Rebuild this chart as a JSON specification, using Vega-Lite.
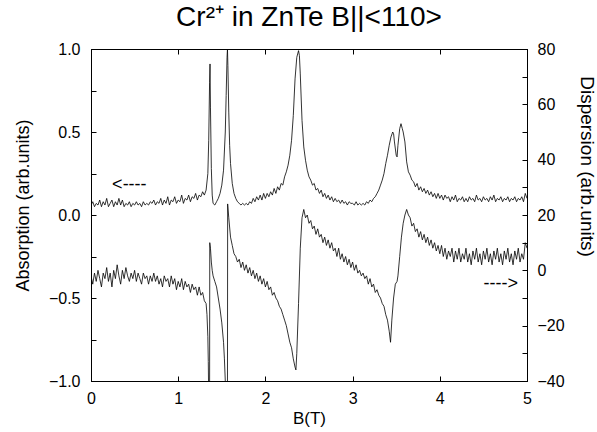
{
"$schema":"https://vega.github.io/schema/vega-lite/v6.json",
"width":436,"height":332,
"autosize":{"type":"none"},
"padding":{"left":91,"top":49,"right":70,"bottom":51},
"background":"white",
"config":{"view":{"stroke":"black","strokeWidth":1},"font":"Liberation Sans",
"axis":{"grid":false,"domainColor":"black","tickColor":"black","labelColor":"black","titleColor":"black","labelFont":"Liberation Sans","titleFont":"Liberation Sans","labelFontSize":16,"titleFontSize":18,"titleFontWeight":"normal","tickSize":-5,"labelOverlap":false,"labelFlush":false,"labelBound":false}},
"title":{"text":"Cr²⁺ in ZnTe B||<110>","fontSize":28,"fontWeight":"normal","font":"Liberation Sans","color":"black","offset":9,"anchor":"middle"},
"datasets":{
"abs":[
{"B":0.00,"A":0.06},{"B":0.02,"A":0.08},{"B":0.04,"A":0.05},{"B":0.06,"A":0.07},{"B":0.08,"A":0.06},{"B":0.10,"A":0.09},{"B":0.12,"A":0.05},{"B":0.14,"A":0.08},{"B":0.16,"A":0.06},{"B":0.18,"A":0.10},
{"B":0.20,"A":0.05},{"B":0.22,"A":0.07},{"B":0.24,"A":0.09},{"B":0.26,"A":0.05},{"B":0.28,"A":0.08},{"B":0.30,"A":0.06},{"B":0.32,"A":0.10},{"B":0.34,"A":0.06},{"B":0.36,"A":0.09},{"B":0.38,"A":0.05},
{"B":0.40,"A":0.07},{"B":0.42,"A":0.06},{"B":0.44,"A":0.08},{"B":0.46,"A":0.05},{"B":0.48,"A":0.07},{"B":0.50,"A":0.06},{"B":0.52,"A":0.08},{"B":0.54,"A":0.06},{"B":0.56,"A":0.07},{"B":0.58,"A":0.05},
{"B":0.60,"A":0.08},{"B":0.62,"A":0.06},{"B":0.64,"A":0.07},{"B":0.66,"A":0.06},{"B":0.68,"A":0.08},{"B":0.70,"A":0.07},{"B":0.72,"A":0.09},{"B":0.74,"A":0.06},{"B":0.76,"A":0.08},{"B":0.78,"A":0.07},
{"B":0.80,"A":0.10},{"B":0.82,"A":0.06},{"B":0.84,"A":0.09},{"B":0.86,"A":0.07},{"B":0.88,"A":0.11},{"B":0.90,"A":0.06},{"B":0.92,"A":0.09},{"B":0.94,"A":0.08},{"B":0.96,"A":0.11},{"B":0.98,"A":0.07},
{"B":1.00,"A":0.09},{"B":1.02,"A":0.08},{"B":1.04,"A":0.12},{"B":1.06,"A":0.07},{"B":1.08,"A":0.10},{"B":1.10,"A":0.09},{"B":1.12,"A":0.12},{"B":1.14,"A":0.08},{"B":1.16,"A":0.11},{"B":1.18,"A":0.10},
{"B":1.20,"A":0.13},{"B":1.22,"A":0.09},{"B":1.24,"A":0.12},{"B":1.26,"A":0.11},{"B":1.28,"A":0.14},{"B":1.30,"A":0.12},{"B":1.32,"A":0.15},{"B":1.34,"A":0.25},{"B":1.35,"A":0.45},{"B":1.36,"A":0.80},
{"B":1.365,"A":0.91},{"B":1.37,"A":0.65},{"B":1.38,"A":0.28},{"B":1.39,"A":0.12},{"B":1.40,"A":0.07},{"B":1.42,"A":0.06},{"B":1.44,"A":0.08},{"B":1.46,"A":0.10},{"B":1.48,"A":0.13},{"B":1.50,"A":0.18},
{"B":1.52,"A":0.27},{"B":1.54,"A":0.50},{"B":1.55,"A":0.72},{"B":1.56,"A":0.95},{"B":1.565,"A":1.00},{"B":1.57,"A":0.90},{"B":1.58,"A":0.62},{"B":1.59,"A":0.42},{"B":1.60,"A":0.31},{"B":1.62,"A":0.19},
{"B":1.64,"A":0.13},{"B":1.66,"A":0.10},{"B":1.68,"A":0.08},{"B":1.70,"A":0.07},{"B":1.72,"A":0.06},{"B":1.74,"A":0.07},{"B":1.76,"A":0.06},{"B":1.78,"A":0.07},{"B":1.80,"A":0.06},{"B":1.82,"A":0.08},
{"B":1.84,"A":0.07},{"B":1.86,"A":0.10},{"B":1.88,"A":0.08},{"B":1.90,"A":0.11},{"B":1.92,"A":0.09},{"B":1.94,"A":0.12},{"B":1.96,"A":0.09},{"B":1.98,"A":0.13},{"B":2.00,"A":0.10},{"B":2.02,"A":0.13},
{"B":2.04,"A":0.11},{"B":2.06,"A":0.14},{"B":2.08,"A":0.12},{"B":2.10,"A":0.16},{"B":2.12,"A":0.13},{"B":2.14,"A":0.17},{"B":2.16,"A":0.15},{"B":2.18,"A":0.19},{"B":2.20,"A":0.18},{"B":2.22,"A":0.23},
{"B":2.24,"A":0.26},{"B":2.26,"A":0.30},{"B":2.28,"A":0.36},{"B":2.30,"A":0.45},{"B":2.32,"A":0.60},{"B":2.34,"A":0.82},{"B":2.36,"A":0.95},{"B":2.38,"A":0.99},{"B":2.39,"A":0.96},{"B":2.40,"A":0.85},
{"B":2.42,"A":0.57},{"B":2.44,"A":0.41},{"B":2.46,"A":0.33},{"B":2.48,"A":0.27},{"B":2.50,"A":0.23},{"B":2.52,"A":0.21},{"B":2.54,"A":0.18},{"B":2.56,"A":0.19},{"B":2.58,"A":0.15},{"B":2.60,"A":0.16},
{"B":2.62,"A":0.13},{"B":2.64,"A":0.15},{"B":2.66,"A":0.11},{"B":2.68,"A":0.13},{"B":2.70,"A":0.10},{"B":2.72,"A":0.12},{"B":2.74,"A":0.09},{"B":2.76,"A":0.11},{"B":2.78,"A":0.08},{"B":2.80,"A":0.10},
{"B":2.82,"A":0.08},{"B":2.84,"A":0.09},{"B":2.86,"A":0.07},{"B":2.88,"A":0.09},{"B":2.90,"A":0.07},{"B":2.92,"A":0.08},{"B":2.94,"A":0.06},{"B":2.96,"A":0.08},{"B":2.98,"A":0.07},{"B":3.00,"A":0.07},
{"B":3.02,"A":0.06},{"B":3.04,"A":0.08},{"B":3.06,"A":0.06},{"B":3.08,"A":0.07},{"B":3.10,"A":0.06},{"B":3.12,"A":0.07},{"B":3.14,"A":0.06},{"B":3.16,"A":0.08},{"B":3.18,"A":0.07},{"B":3.20,"A":0.09},
{"B":3.22,"A":0.08},{"B":3.24,"A":0.10},{"B":3.26,"A":0.11},{"B":3.28,"A":0.13},{"B":3.30,"A":0.15},{"B":3.32,"A":0.18},{"B":3.34,"A":0.21},{"B":3.36,"A":0.25},{"B":3.38,"A":0.31},{"B":3.40,"A":0.36},
{"B":3.42,"A":0.42},{"B":3.44,"A":0.47},{"B":3.46,"A":0.50},{"B":3.47,"A":0.49},{"B":3.48,"A":0.44},{"B":3.50,"A":0.36},{"B":3.51,"A":0.35},{"B":3.52,"A":0.42},{"B":3.54,"A":0.52},{"B":3.555,"A":0.55},
{"B":3.57,"A":0.52},{"B":3.58,"A":0.50},{"B":3.60,"A":0.44},{"B":3.62,"A":0.32},{"B":3.64,"A":0.26},{"B":3.66,"A":0.24},{"B":3.68,"A":0.21},{"B":3.70,"A":0.20},{"B":3.72,"A":0.17},{"B":3.74,"A":0.19},
{"B":3.76,"A":0.15},{"B":3.78,"A":0.17},{"B":3.80,"A":0.14},{"B":3.82,"A":0.16},{"B":3.84,"A":0.13},{"B":3.86,"A":0.15},{"B":3.88,"A":0.12},{"B":3.90,"A":0.14},{"B":3.92,"A":0.11},{"B":3.94,"A":0.13},
{"B":3.96,"A":0.10},{"B":3.98,"A":0.13},{"B":4.00,"A":0.10},{"B":4.02,"A":0.12},{"B":4.04,"A":0.09},{"B":4.06,"A":0.12},{"B":4.08,"A":0.10},{"B":4.10,"A":0.11},{"B":4.12,"A":0.08},{"B":4.14,"A":0.11},
{"B":4.16,"A":0.09},{"B":4.18,"A":0.12},{"B":4.20,"A":0.08},{"B":4.22,"A":0.10},{"B":4.24,"A":0.09},{"B":4.26,"A":0.11},{"B":4.28,"A":0.08},{"B":4.30,"A":0.10},{"B":4.32,"A":0.08},{"B":4.34,"A":0.11},
{"B":4.36,"A":0.09},{"B":4.38,"A":0.10},{"B":4.40,"A":0.08},{"B":4.42,"A":0.12},{"B":4.44,"A":0.09},{"B":4.46,"A":0.10},{"B":4.48,"A":0.08},{"B":4.50,"A":0.11},{"B":4.52,"A":0.09},{"B":4.54,"A":0.10},
{"B":4.56,"A":0.08},{"B":4.58,"A":0.11},{"B":4.60,"A":0.09},{"B":4.62,"A":0.12},{"B":4.64,"A":0.08},{"B":4.66,"A":0.10},{"B":4.68,"A":0.09},{"B":4.70,"A":0.11},{"B":4.72,"A":0.08},{"B":4.74,"A":0.10},
{"B":4.76,"A":0.09},{"B":4.78,"A":0.11},{"B":4.80,"A":0.08},{"B":4.82,"A":0.10},{"B":4.84,"A":0.09},{"B":4.86,"A":0.11},{"B":4.88,"A":0.08},{"B":4.90,"A":0.10},{"B":4.92,"A":0.09},{"B":4.94,"A":0.11},
{"B":4.96,"A":0.08},{"B":4.98,"A":0.13},{"B":5.00,"A":0.10}
],
"disp":[
{"B":0.00,"D":-2},{"B":0.02,"D":-5},{"B":0.04,"D":-1},{"B":0.06,"D":-4},{"B":0.08,"D":0},{"B":0.10,"D":-3},{"B":0.12,"D":-6},{"B":0.14,"D":-1},{"B":0.16,"D":-3},{"B":0.18,"D":1},
{"B":0.20,"D":-4},{"B":0.22,"D":-1},{"B":0.24,"D":-6},{"B":0.26,"D":0},{"B":0.28,"D":-3},{"B":0.30,"D":2},{"B":0.32,"D":-2},{"B":0.34,"D":-5},{"B":0.36,"D":0},{"B":0.38,"D":-3},
{"B":0.40,"D":1},{"B":0.42,"D":-2},{"B":0.44,"D":-4},{"B":0.46,"D":-1},{"B":0.48,"D":-3},{"B":0.50,"D":0},{"B":0.52,"D":-4},{"B":0.54,"D":-1},{"B":0.56,"D":-3},{"B":0.58,"D":-5},
{"B":0.60,"D":-1},{"B":0.62,"D":-3},{"B":0.64,"D":-2},{"B":0.66,"D":-5},{"B":0.68,"D":-2},{"B":0.70,"D":-4},{"B":0.72,"D":-1},{"B":0.74,"D":-4},{"B":0.76,"D":-2},{"B":0.78,"D":-5},
{"B":0.80,"D":-3},{"B":0.82,"D":-6},{"B":0.84,"D":-2},{"B":0.86,"D":-4},{"B":0.88,"D":-3},{"B":0.90,"D":-6},{"B":0.92,"D":-2},{"B":0.94,"D":-5},{"B":0.96,"D":-3},{"B":0.98,"D":-7},
{"B":1.00,"D":-4},{"B":1.02,"D":-6},{"B":1.04,"D":-3},{"B":1.06,"D":-7},{"B":1.08,"D":-4},{"B":1.10,"D":-6},{"B":1.12,"D":-5},{"B":1.14,"D":-8},{"B":1.16,"D":-5},{"B":1.18,"D":-7},
{"B":1.20,"D":-6},{"B":1.22,"D":-9},{"B":1.24,"D":-6},{"B":1.26,"D":-9},{"B":1.28,"D":-8},{"B":1.30,"D":-11},{"B":1.32,"D":-12},{"B":1.33,"D":-16},{"B":1.34,"D":-24},{"B":1.345,"D":-33},
{"B":1.35,"D":-46},{"B":1.36,"D":-46},{"B":1.362,"D":10},{"B":1.37,"D":8},{"B":1.38,"D":3},{"B":1.39,"D":0},{"B":1.40,"D":-2},{"B":1.42,"D":-4},{"B":1.44,"D":-6},{"B":1.46,"D":-10},
{"B":1.48,"D":-14},{"B":1.50,"D":-19},{"B":1.52,"D":-26},{"B":1.53,"D":-32},{"B":1.54,"D":-40},{"B":1.545,"D":-46},{"B":1.565,"D":-46},{"B":1.567,"D":24},{"B":1.58,"D":19},{"B":1.60,"D":12},
{"B":1.62,"D":9},{"B":1.64,"D":6},{"B":1.66,"D":5},{"B":1.68,"D":3},{"B":1.70,"D":4},{"B":1.72,"D":1},{"B":1.74,"D":3},{"B":1.76,"D":0},{"B":1.78,"D":2},{"B":1.80,"D":-1},
{"B":1.82,"D":1},{"B":1.84,"D":-2},{"B":1.86,"D":0},{"B":1.88,"D":-3},{"B":1.90,"D":-1},{"B":1.92,"D":-4},{"B":1.94,"D":-2},{"B":1.96,"D":-5},{"B":1.98,"D":-3},{"B":2.00,"D":-6},
{"B":2.02,"D":-4},{"B":2.04,"D":-7},{"B":2.06,"D":-6},{"B":2.08,"D":-9},{"B":2.10,"D":-8},{"B":2.12,"D":-10},{"B":2.14,"D":-11},{"B":2.16,"D":-13},{"B":2.18,"D":-14},{"B":2.20,"D":-16},
{"B":2.22,"D":-18},{"B":2.24,"D":-20},{"B":2.26,"D":-23},{"B":2.28,"D":-26},{"B":2.30,"D":-28},{"B":2.32,"D":-32},{"B":2.34,"D":-35},{"B":2.35,"D":-36},{"B":2.36,"D":-30},{"B":2.38,"D":-12},
{"B":2.40,"D":8},{"B":2.42,"D":19},{"B":2.44,"D":22},{"B":2.46,"D":19},{"B":2.48,"D":20},{"B":2.50,"D":17},{"B":2.52,"D":18},{"B":2.54,"D":15},{"B":2.56,"D":16},{"B":2.58,"D":13},
{"B":2.60,"D":15},{"B":2.62,"D":12},{"B":2.64,"D":13},{"B":2.66,"D":10},{"B":2.68,"D":12},{"B":2.70,"D":9},{"B":2.72,"D":11},{"B":2.74,"D":8},{"B":2.76,"D":10},{"B":2.78,"D":7},
{"B":2.80,"D":8},{"B":2.82,"D":5},{"B":2.84,"D":8},{"B":2.86,"D":4},{"B":2.88,"D":6},{"B":2.90,"D":3},{"B":2.92,"D":5},{"B":2.94,"D":2},{"B":2.96,"D":4},{"B":2.98,"D":1},
{"B":3.00,"D":3},{"B":3.02,"D":0},{"B":3.04,"D":2},{"B":3.06,"D":-1},{"B":3.08,"D":0},{"B":3.10,"D":-2},{"B":3.12,"D":-1},{"B":3.14,"D":-3},{"B":3.16,"D":-2},{"B":3.18,"D":-5},
{"B":3.20,"D":-3},{"B":3.22,"D":-6},{"B":3.24,"D":-5},{"B":3.26,"D":-8},{"B":3.28,"D":-7},{"B":3.30,"D":-9},{"B":3.32,"D":-10},{"B":3.34,"D":-12},{"B":3.36,"D":-13},{"B":3.38,"D":-16},
{"B":3.40,"D":-18},{"B":3.42,"D":-22},{"B":3.435,"D":-26},{"B":3.45,"D":-18},{"B":3.47,"D":-10},{"B":3.49,"D":-5},{"B":3.51,"D":-4},{"B":3.52,"D":-2},{"B":3.54,"D":5},{"B":3.56,"D":12},
{"B":3.58,"D":17},{"B":3.60,"D":20},{"B":3.62,"D":22},{"B":3.64,"D":20},{"B":3.66,"D":19},{"B":3.68,"D":16},{"B":3.70,"D":17},{"B":3.72,"D":14},{"B":3.74,"D":15},{"B":3.76,"D":12},
{"B":3.78,"D":14},{"B":3.80,"D":11},{"B":3.82,"D":13},{"B":3.84,"D":10},{"B":3.86,"D":12},{"B":3.88,"D":9},{"B":3.90,"D":11},{"B":3.92,"D":8},{"B":3.94,"D":10},{"B":3.96,"D":7},
{"B":3.98,"D":9},{"B":4.00,"D":6},{"B":4.02,"D":9},{"B":4.04,"D":5},{"B":4.06,"D":8},{"B":4.08,"D":4},{"B":4.10,"D":7},{"B":4.12,"D":5},{"B":4.14,"D":8},{"B":4.16,"D":3},
{"B":4.18,"D":7},{"B":4.20,"D":4},{"B":4.22,"D":8},{"B":4.24,"D":3},{"B":4.26,"D":6},{"B":4.28,"D":4},{"B":4.30,"D":8},{"B":4.32,"D":3},{"B":4.34,"D":6},{"B":4.36,"D":2},
{"B":4.38,"D":7},{"B":4.40,"D":4},{"B":4.42,"D":8},{"B":4.44,"D":3},{"B":4.46,"D":6},{"B":4.48,"D":2},{"B":4.50,"D":7},{"B":4.52,"D":4},{"B":4.54,"D":8},{"B":4.56,"D":3},
{"B":4.58,"D":6},{"B":4.60,"D":2},{"B":4.62,"D":7},{"B":4.64,"D":4},{"B":4.66,"D":8},{"B":4.68,"D":3},{"B":4.70,"D":6},{"B":4.72,"D":2},{"B":4.74,"D":7},{"B":4.76,"D":4},
{"B":4.78,"D":8},{"B":4.80,"D":3},{"B":4.82,"D":6},{"B":4.84,"D":2},{"B":4.86,"D":7},{"B":4.88,"D":4},{"B":4.90,"D":8},{"B":4.92,"D":3},{"B":4.94,"D":6},{"B":4.96,"D":4},
{"B":4.98,"D":10},{"B":5.00,"D":8}
]
},
"layer":[
{"data":{"name":"abs"},
 "encoding":{
  "x":{"field":"B","type":"quantitative","scale":{"domain":[0,5],"nice":false,"zero":false},
       "axis":{"orient":"bottom","values":[0,1,2,3,4,5],"title":"B(T)","labelPadding":14,"titlePadding":4,"titleFontSize":17,"format":"d"}},
  "y":{"field":"A","type":"quantitative","scale":{"domain":[-1,1],"nice":false,"zero":false},
       "axis":{"orient":"left","values":[-1,-0.75,-0.5,-0.25,0,0.25,0.5,0.75,1],"labelExpr":"datum.value % 0.5 == 0 ? format(datum.value, '.1f') : ''","title":"Absorption (arb.units)","labelPadding":16,"titlePadding":16,"titleY":156}}},
 "layer":[
  {"mark":{"type":"line","color":"black","strokeWidth":0.8,"clip":true}},
  {"data":{"values":[{"B":0.44,"A":0.18,"t":"<----"}]},"mark":{"type":"text","fontSize":18,"font":"Liberation Sans","color":"black","align":"center","baseline":"middle"},"encoding":{"text":{"field":"t","type":"nominal"}}}
 ]},
{"data":{"name":"disp"},
 "encoding":{
  "x":{"field":"B","type":"quantitative","scale":{"domain":[0,5],"nice":false,"zero":false},
       "axis":{"orient":"top","values":[0,1,2,3,4,5],"labels":false,"title":null}},
  "y":{"field":"D","type":"quantitative","scale":{"domain":[-40,80],"nice":false,"zero":false},
       "axis":{"orient":"right","values":[-40,-30,-20,-10,0,10,20,30,40,50,60,70,80],"labelExpr":"datum.value % 20 == 0 ? datum.label : ''","title":"Dispersion (arb.units)","labelPadding":15,"titlePadding":12,"titleY":117,"titleFontSize":19}}},
 "layer":[
  {"mark":{"type":"line","color":"black","strokeWidth":0.8,"clip":true}},
  {"data":{"values":[{"B":4.70,"D":-5,"t":"---->"}]},"mark":{"type":"text","fontSize":18,"font":"Liberation Sans","color":"black","align":"center","baseline":"middle"},"encoding":{"text":{"field":"t","type":"nominal"}}}
 ]}
],
"resolve":{"scale":{"y":"independent"},"axis":{"x":"independent","y":"independent"}}
}
